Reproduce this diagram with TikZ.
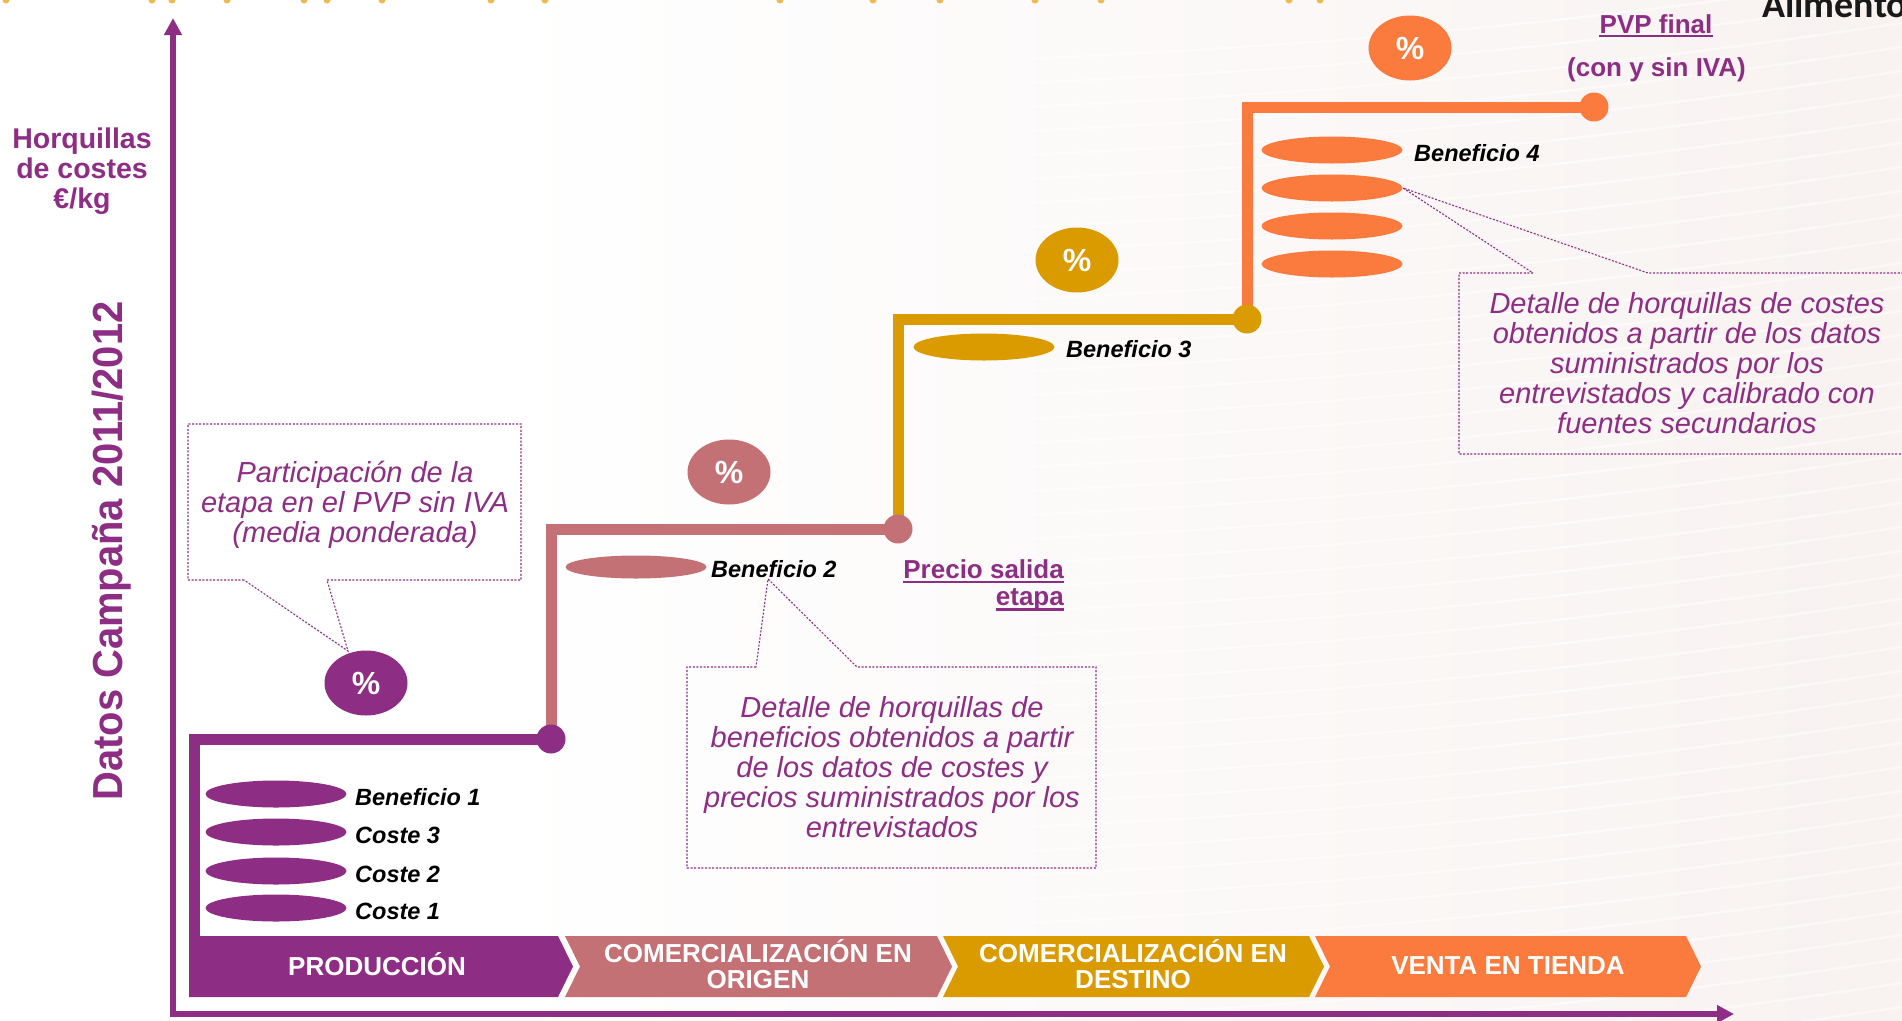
\documentclass[tikz,border=0pt]{standalone}
\usepackage{fontspec}
\setmainfont{Liberation Sans}
\newfontfamily\carlitofont{Carlito}
\usetikzlibrary{shapes.geometric,arrows.meta}
\definecolor{cpur}{RGB}{142,45,132}
\definecolor{crose}{RGB}{196,113,117}
\definecolor{cgold}{RGB}{218,155,0}
\definecolor{corg}{RGB}{250,123,61}
\definecolor{cbg}{RGB}{243,234,231}
\definecolor{cdotc}{RGB}{236,186,80}
\definecolor{calim}{RGB}{25,25,25}
\pgfdeclarehorizontalshading{bgshade}{100bp}{color(0bp)=(white); color(38bp)=(white); color(100bp)=(cbg)}
\newcommand\fchev{\fontsize{26}{27}\selectfont\bfseries}
\newcommand\fcall{\fontsize{29}{30}\selectfont\itshape}
\newcommand\fben{\fontsize{23.5}{24}\selectfont\bfseries\itshape}
\newcommand\flab{\fontsize{26}{27}\selectfont\bfseries}
\newcommand\fpct{\fontsize{32}{34}\selectfont\bfseries}
\tikzset{
  pct/.style={ellipse, minimum width=83pt, minimum height=65pt, inner sep=0pt, text=white, font=\fpct},
  coin/.style={ellipse, minimum width=141pt, minimum height=27pt, inner sep=0pt},
  stair/.style={line width=11pt, line join=miter},
  stepdot/.style={circle, minimum size=29pt, inner sep=0pt},
  chevtext/.style={font=\fchev, text=white, anchor=base, inner sep=0pt},
  calltext/.style={font=\fcall, text=cpur, anchor=base, inner sep=0pt},
  callbox/.style={draw=cpur, line width=1.1pt, dash pattern=on 2pt off 1.6pt},
  benlabel/.style={font=\fben, text=black, anchor=base west, inner sep=0pt},
  purlabel/.style={font=\flab, text=cpur, anchor=base, inner sep=0pt},
  axislabel/.style={font=\fontsize{28.5}{30}\selectfont\bfseries, text=cpur, anchor=base, inner sep=0pt},
  uline/.style={cpur, line width=2.4pt},
}
\begin{document}
\begin{tikzpicture}[x=1pt,y=-1pt]
\useasboundingbox (0,0) rectangle (1902,1020);
\clip (0,0) rectangle (1902,1020);
% background
\shade[shading=bgshade] (0,0) rectangle (1902,1020);
\foreach \k in {0,...,44}
  \draw[white, line width=2.2pt, opacity=0.55] (1000,60+24*\k) .. controls (1350,45+24*\k) and (1600,20+24*\k) .. (1902,-25+24*\k);
% top gold dots (cut off)
\foreach \x in {6,152,172,227,304,327,382,491,545,780,873,940,1035,1101,1289,1320}
  \fill[cdotc] (\x,0) circle (3.5pt);
% cropped heading
\node[anchor=base west, inner sep=0pt, text=calim, font={\fontsize{38}{40}\selectfont\carlitofont\bfseries}] (alim) at (1762,17) {Alimento};

% axes
\coordinate (ytop) at (173,18);
\coordinate (origin) at (173,1014);
\coordinate (xend) at (1734,1014);
\draw[cpur, line width=6pt, {Triangle[width=17pt,length=17pt]}-{Triangle[width=17pt,length=17pt]}] (ytop) -- (origin) -- (xend);

% axis labels
\node[axislabel] (h1) at (82,148) {Horquillas};
\node[axislabel] (h2) at (82,178) {de costes};
\node[axislabel] (h3) at (82,208) {€/kg};
\node[rotate=90, anchor=base, inner sep=0pt, text=cpur, font=\fontsize{42}{44}\selectfont\bfseries] (datos) at (122,551) {\scalebox{0.95}[1]{Datos Campaña 2011/2012}};

% chevrons
\fill[cpur] (189,936) -- (558,936) -- (573,966.5) -- (558,997) -- (189,997) -- cycle;
\fill[crose] (565,936) -- (937,936) -- (952,966.5) -- (937,997) -- (565,997) -- (580,966.5) -- cycle;
\fill[cgold] (943,936) -- (1309,936) -- (1324,966.5) -- (1309,997) -- (943,997) -- (958,966.5) -- cycle;
\fill[corg] (1315,936) -- (1686,936) -- (1701,966.5) -- (1686,997) -- (1315,997) -- (1330,966.5) -- cycle;
\node[chevtext] (prod) at (377,975) {PRODUCCIÓN};
\node[chevtext] (orig1) at (758,962) {COMERCIALIZACIÓN EN};
\node[chevtext] (orig2) at (758,988) {ORIGEN};
\node[chevtext] (dest1) at (1133,962) {COMERCIALIZACIÓN EN};
\node[chevtext] (dest2) at (1133,988) {DESTINO};
\node[chevtext] (venta) at (1508,974) {VENTA EN TIENDA};

% staircase
\coordinate (s0) at (194.5,936);
\coordinate (c1) at (551,739);
\coordinate (c2) at (898,529);
\coordinate (c3) at (1247,319);
\coordinate (c4) at (1594,107);
\draw[stair, corg] (c3) |- (c4);
\draw[stair, cgold] (c2) |- (c3);
\draw[stair, crose] (c1) |- (c2);
\draw[stair, cpur] (s0) |- (c1);
\node[stepdot, fill=cpur] (d1) at (c1) {};
\node[stepdot, fill=crose] (d2) at (c2) {};
\node[stepdot, fill=cgold] (d3) at (c3) {};
\node[stepdot, fill=corg] (d4) at (c4) {};

% percent ellipses
\node[pct, fill=cpur] (pct1) at (366,683) {\%};
\node[pct, fill=crose] (pct2) at (729,472) {\%};
\node[pct, fill=cgold] (pct3) at (1077,260) {\%};
\node[pct, fill=corg] (pct4) at (1410,48) {\%};

% coins production
\node[coin, fill=cpur] (p1) at (276,794) {};
\node[coin, fill=cpur] (p2) at (276,832) {};
\node[coin, fill=cpur] (p3) at (276,871) {};
\node[coin, fill=cpur] (p4) at (276,908) {};
\node[benlabel] (lb1) at (355,805) {Beneficio 1};
\node[benlabel] (lc3) at (355,843) {Coste 3};
\node[benlabel] (lc2) at (355,882) {Coste 2};
\node[benlabel] (lc1) at (355,919) {Coste 1};
% coin origen
\node[coin, fill=crose, minimum height=23pt] (r1) at (636,567) {};
\node[benlabel] (lb2) at (711,577) {Beneficio 2};
% coin destino
\node[coin, fill=cgold] (g1) at (984,347) {};
\node[benlabel] (lb3) at (1066,357) {Beneficio 3};
% coins tienda
\node[coin, fill=corg] (o1) at (1332,150) {};
\node[coin, fill=corg] (o2) at (1332,188) {};
\node[coin, fill=corg] (o3) at (1332,226) {};
\node[coin, fill=corg] (o4) at (1332,264) {};
\node[benlabel] (lb4) at (1414,161) {Beneficio 4};

% price labels
\node[purlabel, anchor=base east] (ps1) at (1064,578) {Precio salida};
\node[purlabel, anchor=base east] (ps2) at (1064,605) {etapa};
\draw[uline] ([yshift=-3.8pt]ps1.base west) -- ([yshift=-3.8pt]ps1.base east);
\draw[uline] ([yshift=-4.5pt]ps2.base west) -- ([yshift=-4.5pt]ps2.base east);
\node[purlabel] (pvp) at (1656,33) {PVP final};
\draw[uline] ([yshift=-2.8pt]pvp.base west) -- ([yshift=-2.8pt]pvp.base east);
\node[purlabel] (iva) at (1656.5,76) {(con y sin IVA)};

% callout 1
\coordinate (t1) at (348,651);
\draw[callbox] (244,580) -- (188,580) -- (188,424) -- (521,424) -- (521,580) -- (327,580) -- (t1) -- cycle;
\node[calltext] (a1) at (355,482) {Participación de la};
\node[calltext] (a2) at (355,512) {etapa en el PVP sin IVA};
\node[calltext] (a3) at (355,542) {(media ponderada)};

% callout 2
\coordinate (t2) at (768,579);
\draw[callbox] (756,667) -- (687,667) -- (687,868) -- (1096,868) -- (1096,667) -- (857,667) -- (t2) -- cycle;
\node[calltext] (b1) at (892,717) {Detalle de horquillas de};
\node[calltext] (b2) at (892,747) {beneficios obtenidos a partir};
\node[calltext] (b3) at (892,777) {de los datos de costes y};
\node[calltext] (b4) at (892,807) {precios suministrados por los};
\node[calltext] (b5) at (892,837) {entrevistados};

% callout 3
\coordinate (t3) at (1403,188);
\draw[callbox] (1533,273) -- (1459,273) -- (1459,454) -- (1915,454) -- (1915,273) -- (1648,273) -- (t3) -- cycle;
\node[calltext] (e1) at (1687,313) {Detalle de horquillas de costes};
\node[calltext] (e2) at (1687,343) {obtenidos a partir de los datos};
\node[calltext] (e3) at (1687,373) {suministrados por los};
\node[calltext] (e4) at (1687,403) {entrevistados y calibrado con};
\node[calltext] (e5) at (1687,433) {fuentes secundarios};
\end{tikzpicture}
\end{document}
